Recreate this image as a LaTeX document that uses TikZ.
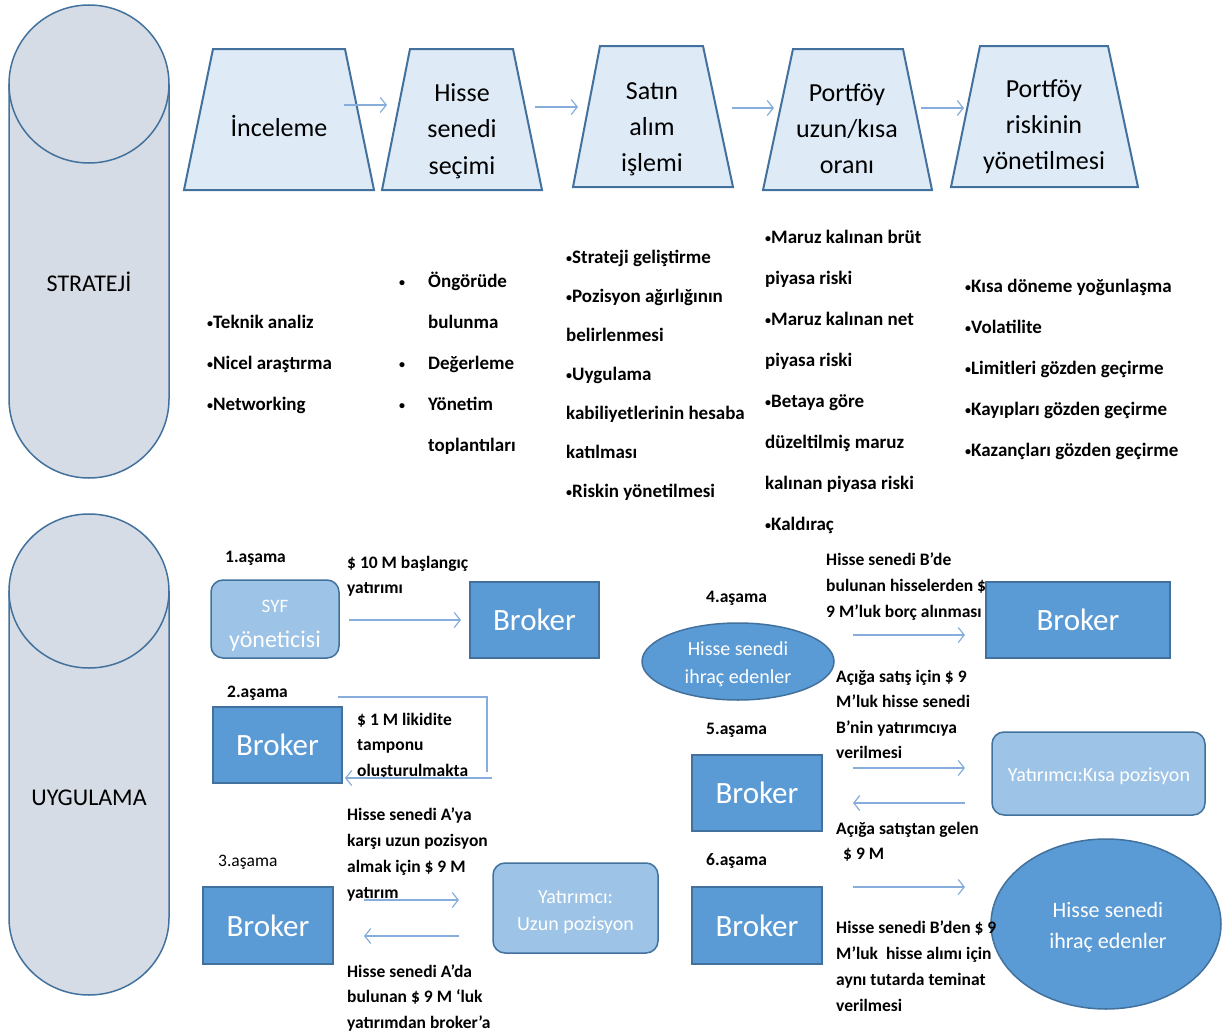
\documentclass[tikz,border=0pt]{standalone}
\usepackage{fontspec}
\setmainfont{Carlito}
\usetikzlibrary{arrows.meta,shapes.geometric}
\definecolor{edgeblue}{HTML}{41719C}
\definecolor{cylfill}{HTML}{D6DCE5}
\definecolor{trapfill}{HTML}{DEEBF7}
\definecolor{midblue}{HTML}{5B9BD5}
\definecolor{lightblue}{HTML}{9DC3E6}
\definecolor{arrowblue}{HTML}{86ADDC}
\newcommand\txtlines[6]{\foreach \tl [count=\ti] in {#6} {\node[#2] (#1\ti) at ({#3},{#4+(\ti-1)*#5}) {\tl};}}
\newcommand\smbul{\raisebox{1pt}{\fontsize{12}{14}\selectfont•}}
\begin{document}
\begin{tikzpicture}[x=1pt,y=-1pt,
  cyl/.style={draw=edgeblue, line width=1.5pt, fill=cylfill},
  trap/.style={draw=edgeblue, line width=2pt, fill=trapfill, line join=miter},
  flow/.style={draw=arrowblue, line width=1.2pt, -{Straight Barb[length=6pt,width=15pt,line width=1.2pt]}},
  plain/.style={draw=arrowblue, line width=1.2pt},
  broker/.style={draw=edgeblue, line width=1.5pt, fill=midblue, text=white, font=\fontsize{31}{36}\selectfont, inner sep=0},
  lightbox/.style={draw=edgeblue, line width=1.5pt, fill=lightblue, rounded corners=12pt, inner sep=0},
  ellbox/.style={ellipse, draw=edgeblue, line width=1.5pt, fill=midblue, inner sep=0},
  wtxt/.style={anchor=base, inner sep=0, text=white},
  lbl/.style={anchor=base west, inner sep=0, font=\fontsize{17.5}{21}\selectfont\bfseries},
  lblr/.style={anchor=base west, inner sep=0, font=\fontsize{17.5}{21}\selectfont},
  ttl/.style={anchor=base, inner sep=0, font=\fontsize{26}{30}\selectfont},
  bul/.style={anchor=base west, inner sep=0, font=\fontsize{19}{23}\selectfont\bfseries},
]
\useasboundingbox (0,0) rectangle (1227,1036);

% ---- cylinders
\path[fill=cylfill] (9,84) -- (9,399) arc[start angle=180,end angle=0,x radius=80,y radius=79] -- (169,84) -- cycle;
\draw[cyl,fill=none] (9,84) -- (9,399) arc[start angle=180,end angle=0,x radius=80,y radius=79] -- (169,84);
\draw[cyl] (89,84) ellipse[x radius=80,y radius=79];
\node[anchor=base, inner sep=0, font=\fontsize{24}{28}\selectfont] (strat) at (89,291) {STRATEJİ};

\path[fill=cylfill] (9,591) -- (9,918) arc[start angle=180,end angle=0,x radius=80,y radius=77] -- (169,591) -- cycle;
\draw[cyl,fill=none] (9,591) -- (9,918) arc[start angle=180,end angle=0,x radius=80,y radius=77] -- (169,591);
\draw[cyl] (89,591) ellipse[x radius=80,y radius=77];
\node[anchor=base, inner sep=0, font=\fontsize{24}{28}\selectfont] (uyg) at (89,805) {UYGULAMA};

% ---- trapezoids
\draw[trap] (213,49) -- (345,49) -- (374,190) -- (184,190) -- cycle;
\draw[trap] (410,49) -- (513,49) -- (542,190) -- (382,190) -- cycle;
\draw[trap] (600,46) -- (703,46) -- (733,187) -- (573,187) -- cycle;
\draw[trap] (793,49) -- (903,49) -- (932,190) -- (763,190) -- cycle;
\draw[trap] (980,46) -- (1108,46) -- (1138,187) -- (951,187) -- cycle;

\node[ttl] (t1) at (279,136) {İnceleme};
\txtlines{tb}{ttl}{462}{101}{36.5}{Hisse, senedi, seçimi}
\txtlines{tc}{ttl}{652}{99}{36}{Satın, alım, işlemi}
\txtlines{td}{ttl}{847}{101}{36}{Portföy, uzun/kısa, oranı}
\txtlines{te}{ttl}{1044}{97}{36}{Portföy, riskinin, yönetilmesi}

\coordinate (a1s) at (344,105); \coordinate (a1e) at (387,105);
\coordinate (a2s) at (535,107); \coordinate (a2e) at (578,107);
\coordinate (a3s) at (732,108); \coordinate (a3e) at (774,108);
\coordinate (a4s) at (921,108); \coordinate (a4e) at (964,108);
\draw[flow] (a1s) -- (a1e);
\draw[flow] (a2s) -- (a2e);
\draw[flow] (a3s) -- (a3e);
\draw[flow] (a4s) -- (a4e);

% ---- strategy bullet columns
\txtlines{ca}{bul}{207}{328}{41}{\smbul Teknik analiz, \smbul Nicel araştırma, \smbul Networking}
\node[bul] (cbd1) at (399,287) {\smbul};
\node[bul] (cbd2) at (399,369) {\smbul};
\node[bul] (cbd3) at (399,410) {\smbul};
\txtlines{cb}{bul}{428}{287}{41}{Öngörüde, bulunma, Değerleme, Yönetim, toplantıları}
\txtlines{cc}{bul}{566}{263}{39}{\smbul Strateji geliştirme, \smbul Pozisyon ağırlığının, belirlenmesi, \smbul Uygulama, kabiliyetlerinin hesaba, katılması, \smbul Riskin yönetilmesi}
\txtlines{cd}{bul}{765}{243}{41}{\smbul Maruz kalınan brüt, piyasa riski, \smbul Maruz kalınan net, piyasa riski, \smbul Betaya göre, düzeltilmiş maruz, kalınan piyasa riski, \smbul Kaldıraç}
\txtlines{ce}{bul}{965}{292}{41}{\smbul Kısa döneme yoğunlaşma, \smbul Volatilite, \smbul Limitleri gözden geçirme, \smbul Kayıpları gözden geçirme, \smbul Kazançları gözden geçirme}

% ---- stage 1
\node[lbl] (s1) at (225,562) {1.aşama};
\node[lightbox, minimum width=128pt, minimum height=78pt] (syf) at (275,619) {};
\node[wtxt, font=\fontsize{19}{22}\selectfont] (syf1) at (275,612) {SYF};
\node[wtxt, font=\fontsize{24}{28}\selectfont] (syf2) at (275,647) {yöneticisi};
\node[broker, minimum width=129pt, minimum height=76pt] (b1) at (534.5,620) {Broker};
\txtlines{l1}{lbl}{347}{568}{25.5}{\$ 10 M başlangıç, yatırımı}
\coordinate (p1s) at (349,620); \coordinate (p1e) at (461,620);
\draw[flow] (p1s) -- (p1e);

% ---- stage 2
\node[lbl] (s2) at (227,697) {2.aşama};
\node[broker, minimum width=129pt, minimum height=76pt] (b2) at (277.5,745) {Broker};
\txtlines{l2}{lbl}{357}{725}{25.5}{\$ 1 M likidite, tamponu, oluşturulmakta}
\coordinate (p2a) at (338,697); \coordinate (p2b) at (487,772);
\coordinate (p2s) at (492,778); \coordinate (p2e) at (345,778);
\draw[plain] (p2a) -| (p2b);
\draw[flow] (p2s) -- (p2e);

% ---- stage 3
\node[lblr] (s3) at (218,866) {3.aşama};
\node[broker, minimum width=130pt, minimum height=77pt] (b3) at (268,925.5) {Broker};
\node[lightbox, minimum width=165pt, minimum height=90pt] (yu) at (575.5,908) {};
\node[wtxt, font=\fontsize{20}{24}\selectfont] (yu1) at (575.5,903) {Yatırımcı:};
\node[wtxt, font=\fontsize{20}{24}\selectfont] (yu2) at (575.5,930) {Uzun pozisyon};
\txtlines{l3}{lbl}{347}{820}{26}{Hisse senedi A’ya, karşı uzun pozisyon, almak için \$ 9 M, yatırım}
\txtlines{l3b}{lbl}{347}{977}{25.5}{Hisse senedi A’da, bulunan \$ 9 M ‘luk, yatırımdan broker’a}
\coordinate (p3s) at (364,900); \coordinate (p3e) at (459,900);
\coordinate (p3t) at (459,936); \coordinate (p3u) at (364,936);
\draw[flow] (p3s) -- (p3e);
\draw[flow] (p3t) -- (p3u);

% ---- stage 4
\node[lbl] (s4) at (706,602) {4.aşama};
\node[ellbox, minimum width=192pt, minimum height=77pt] (is1) at (738,661.5) {};
\node[wtxt, font=\fontsize{20}{24}\selectfont] (is1a) at (738,655) {Hisse senedi};
\node[wtxt, font=\fontsize{20}{24}\selectfont] (is1b) at (738,683) {ihraç edenler};
\node[broker, minimum width=184pt, minimum height=76pt] (b4) at (1078,620) {Broker};
\txtlines{l4}{lbl}{826}{565}{26}{Hisse senedi B’de, bulunan hisselerden \$, 9 M’luk borç alınması}
\coordinate (p4s) at (853,635); \coordinate (p4e) at (965,635);
\draw[flow] (p4s) -- (p4e);

% ---- stage 5
\node[lbl] (s5) at (706,734) {5.aşama};
\node[broker, minimum width=130pt, minimum height=76pt] (b5) at (757,793) {Broker};
\node[lightbox, minimum width=213pt, minimum height=83pt] (yk) at (1098.5,773.5) {};
\node[wtxt, font=\fontsize{20}{24}\selectfont] (yk1) at (1099,781) {Yatırımcı:Kısa pozisyon};
\txtlines{l5}{lbl}{836}{682}{25.5}{Açığa satış için \$ 9, M’luk hisse senedi, B’nin yatırımcıya, verilmesi}
\node[lbl] (l5b1) at (836,834) {Açığa satıştan gelen};
\node[lbl] (l5b2) at (843,859) {\$ 9 M};
\coordinate (p5s) at (853,768); \coordinate (p5e) at (965,768);
\coordinate (p5t) at (965,803); \coordinate (p5u) at (853,803);
\draw[flow] (p5s) -- (p5e);
\draw[flow] (p5t) -- (p5u);

% ---- stage 6
\node[lbl] (s6) at (706,865) {6.aşama};
\node[broker, minimum width=130pt, minimum height=77pt] (b6) at (757,925.5) {Broker};
\node[ellbox, minimum width=230pt, minimum height=170pt] (is2) at (1106,924) {};
\node[wtxt, font=\fontsize{22}{26}\selectfont] (is2a) at (1108,917) {Hisse senedi};
\node[wtxt, font=\fontsize{22}{26}\selectfont] (is2b) at (1108,948) {ihraç edenler};
\txtlines{l6}{lbl}{836}{933}{26}{Hisse senedi B’den \$ 9, M’luk\ \ hisse alımı için, aynı tutarda teminat, verilmesi}
\coordinate (p6s) at (853,887); \coordinate (p6e) at (965,887);
\draw[flow] (p6s) -- (p6e);
\end{tikzpicture}
\end{document}
